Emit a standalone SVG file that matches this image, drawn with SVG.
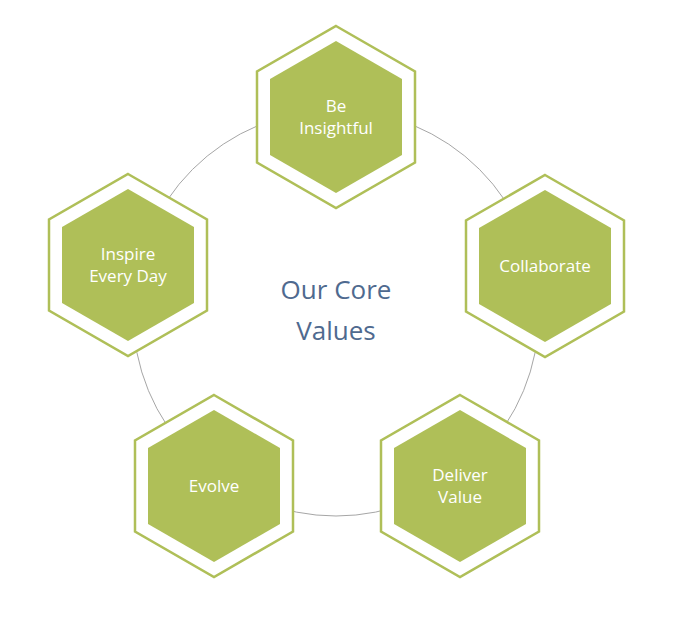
<svg xmlns="http://www.w3.org/2000/svg" width="673" height="617" viewBox="0 0 673 617">
<style>
.o{fill:#fff;stroke:#afbf58;stroke-width:2.5}
.i{fill:#afbf58}
.t{fill:#fff;font-family:"Open Sans","Noto Sans",sans-serif;font-size:17px;text-anchor:middle}
.c{fill:#4f6a8f;font-family:"Open Sans","Noto Sans",sans-serif;font-size:26px;text-anchor:middle}
</style>
<defs>
<polygon id="ho" points="0,-91 79,-45.5 79,45.5 0,91 -79,45.5 -79,-45.5"/>
<polygon id="hi" points="0,-76 66,-38 66,38 0,76 -66,38 -66,-38"/>
</defs>
<g id="connectors"><circle cx="336" cy="313" r="203" fill="none" stroke="#a6a6a6" stroke-width="1"/></g>
<g id="center"><text class="c" x="336" y="299">Our Core</text><text class="c" x="336" y="340">Values</text></g>
<g id="n1" transform="translate(336,117)"><use href="#ho" class="o"/><use href="#hi" class="i"/><text class="t" y="-5">Be</text><text class="t" y="17">Insightful</text></g>
<g id="n2" transform="translate(545,266)"><use href="#ho" class="o"/><use href="#hi" class="i"/><text class="t" y="6">Collaborate</text></g>
<g id="n3" transform="translate(460,486)"><use href="#ho" class="o"/><use href="#hi" class="i"/><text class="t" y="-5">Deliver</text><text class="t" y="17">Value</text></g>
<g id="n4" transform="translate(214,486)"><use href="#ho" class="o"/><use href="#hi" class="i"/><text class="t" y="6">Evolve</text></g>
<g id="n5" transform="translate(128,265)"><use href="#ho" class="o"/><use href="#hi" class="i"/><text class="t" y="-5">Inspire</text><text class="t" y="17">Every Day</text></g>
</svg>
